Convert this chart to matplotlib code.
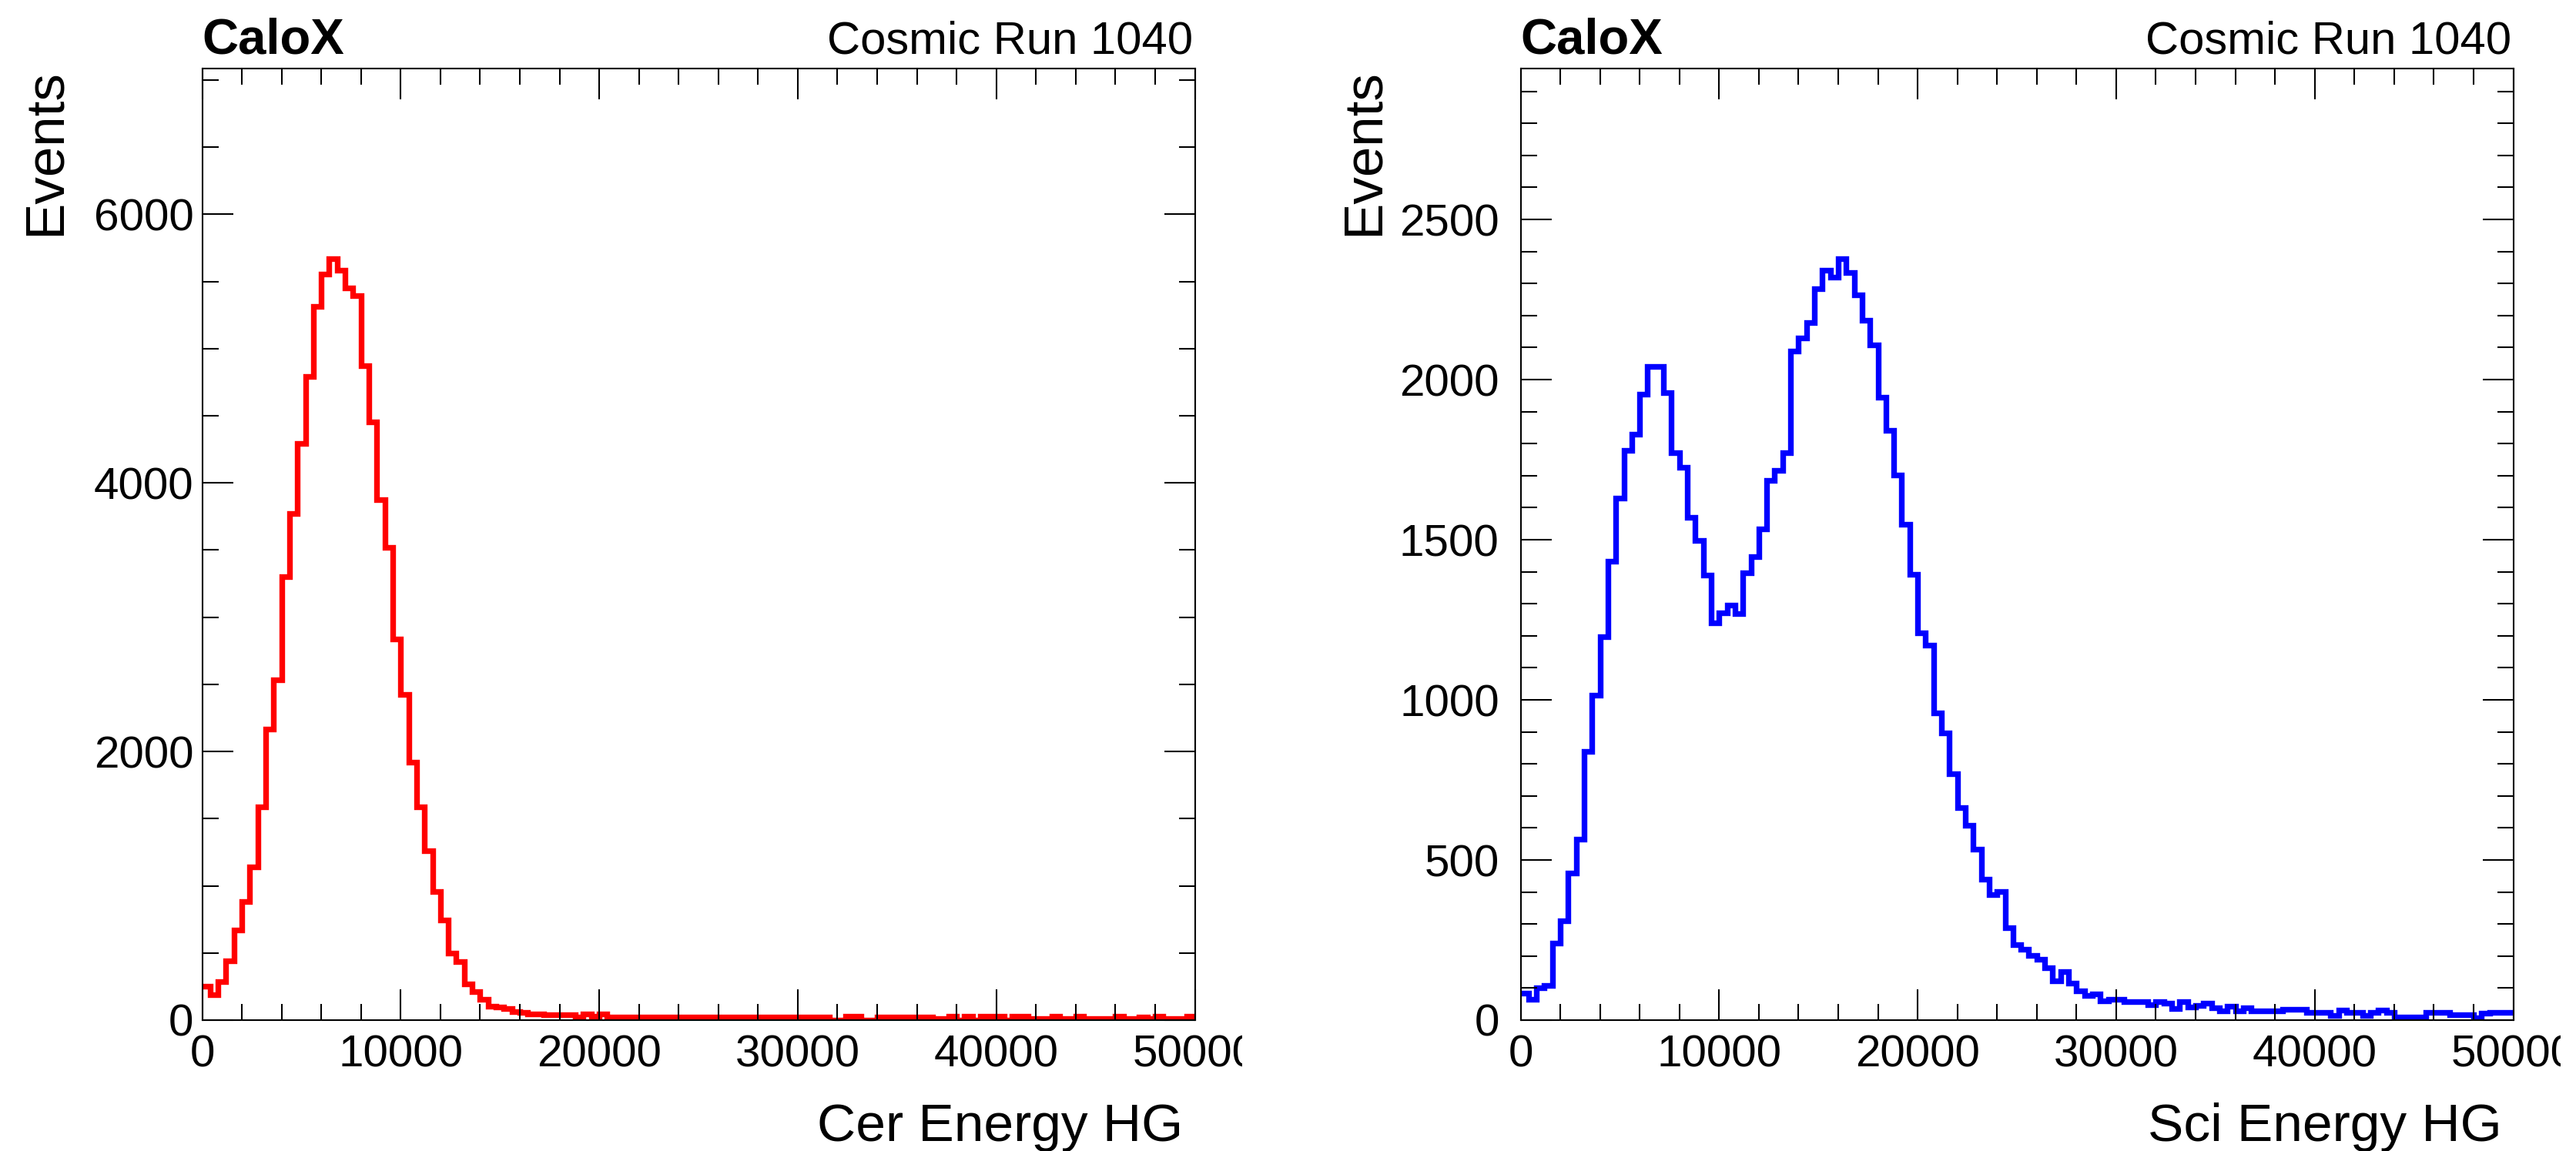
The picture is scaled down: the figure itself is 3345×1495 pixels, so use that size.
import numpy as np
import matplotlib
matplotlib.use("Agg")
import matplotlib.pyplot as plt
from matplotlib.ticker import MultipleLocator
from matplotlib.transforms import Bbox, TransformedBbox

plt.rcParams['font.family'] = ['Liberation Sans', 'DejaVu Sans']

# --- histogram contents, 125 bins of 400 from 0 to 50000 ---
bin_edges = np.linspace(0, 50000, 126)

cer_counts = [
    255, 191, 285, 440, 670, 885, 1143, 1588, 2166, 2531,
    3299, 3770, 4291, 4792, 5314, 5553, 5668, 5586, 5451, 5396,
    4870, 4455, 3876, 3520, 2839, 2426, 1921, 1588, 1262, 955,
    743, 496, 436, 271, 211, 157, 105, 95, 88, 65,
    55, 47, 45, 40, 38, 38, 38, 24, 45, 28,
    45, 24, 24, 24, 24, 24, 24, 24, 24, 24,
    24, 24, 24, 24, 24, 24, 24, 24, 24, 24,
    24, 24, 24, 24, 24, 24, 24, 24, 24, 0,
    0, 28, 28, 0, 0, 24, 24, 24, 24, 24,
    24, 24, 9, 9, 28, 0, 28, 0, 28, 28,
    28, 0, 28, 28, 9, 9, 9, 28, 9, 9,
    28, 13, 13, 13, 13, 28, 9, 9, 24, 9,
    28, 13, 13, 13, 28,
]

sci_counts = [
    84, 64, 100, 108, 241, 311, 459, 564, 839, 1014,
    1198, 1433, 1631, 1780, 1830, 1955, 2042, 2042, 1959, 1772,
    1725, 1569, 1498, 1389, 1241, 1272, 1295, 1269, 1397, 1448,
    1533, 1686, 1717, 1772, 2088, 2131, 2178, 2283, 2342, 2319,
    2377, 2334, 2264, 2186, 2108, 1944, 1842, 1702, 1548, 1392,
    1209, 1170, 959, 897, 769, 663, 608, 533, 439, 392,
    402, 288, 236, 220, 202, 189, 163, 123, 152, 116,
    92, 77, 81, 60, 64, 64, 58, 58, 58, 48,
    58, 53, 35, 58, 40, 45, 52, 38, 28, 44,
    28, 38, 30, 30, 30, 30, 33, 33, 33, 23,
    23, 23, 15, 31, 23, 23, 15, 23, 31, 23,
    10, 10, 10, 10, 23, 23, 23, 17, 17, 17,
    7, 22, 23, 23, 23,
]

panels = [
    dict(counts=cer_counts, color='#ff0000', xlabel='Cer Energy HG',
         ymajor=2000, yminor=500, left=262.5, ypad=8),
    dict(counts=sci_counts, color='#0000ff', xlabel='Sci Energy HG',
         ymajor=500, yminor=100, left=1974.5, ypad=20),
]

W, H = 3345, 1495
ax_w, ax_h = 1289.0, 1236.0
ax_bottom = 170.0

fig = plt.figure(figsize=(W / 100, H / 100), dpi=100)

for p in panels:
    ax = fig.add_axes([p['left'] / W, ax_bottom / H, ax_w / W, ax_h / H])
    ax.stairs(p['counts'], bin_edges, baseline=None, color=p['color'], lw=5.3)

    ax.set_xlim(0, 50000)
    ax.set_ylim(0, max(p['counts']) * 1.25)
    ax.set_xticks(np.arange(0, 50001, 10000))
    ax.xaxis.set_minor_locator(MultipleLocator(2000))
    ax.yaxis.set_major_locator(MultipleLocator(p['ymajor']))
    ax.yaxis.set_minor_locator(MultipleLocator(p['yminor']))

    ax.tick_params(which='both', direction='in', top=True, right=True, width=1.5)
    ax.tick_params(which='major', length=28.8)
    ax.tick_params(which='minor', length=15)
    ax.tick_params(axis='x', labelsize=42, pad=13)
    ax.tick_params(axis='y', labelsize=42, pad=p['ypad'])
    for sp in ax.spines.values():
        sp.set_linewidth(1.5)

    ax.set_xlabel(p['xlabel'], fontsize=50, loc='right')
    ax.xaxis.set_label_coords(1 - 15 / ax_w, -157 / ax_h)
    ax.xaxis.label.set_va('baseline')
    ax.set_ylabel('Events', fontsize=51, loc='top')
    ax.yaxis.set_label_coords(-185 / ax_w, 1.0)
    ax.yaxis.label.set_va('baseline')

    ax.text(0, 1 + 19 / ax_h, 'CaloX', transform=ax.transAxes,
            fontsize=47, fontweight='bold', ha='left', va='baseline')
    ax.text(0.998, 1 + 19 / ax_h, 'Cosmic Run 1040', transform=ax.transAxes,
            fontsize=43, ha='right', va='baseline')

    # the last x label is cut at the pad edge in the original
    right_px = p['left'] + ax_w + 61
    clip = TransformedBbox(Bbox([[0, 0], [right_px / W, 1]]), fig.transFigure)
    lab = ax.xaxis.get_major_ticks()[-1].label1
    lab.set_clip_box(clip)
    lab.set_clip_on(True)

fig.savefig('out.png', dpi=100)
